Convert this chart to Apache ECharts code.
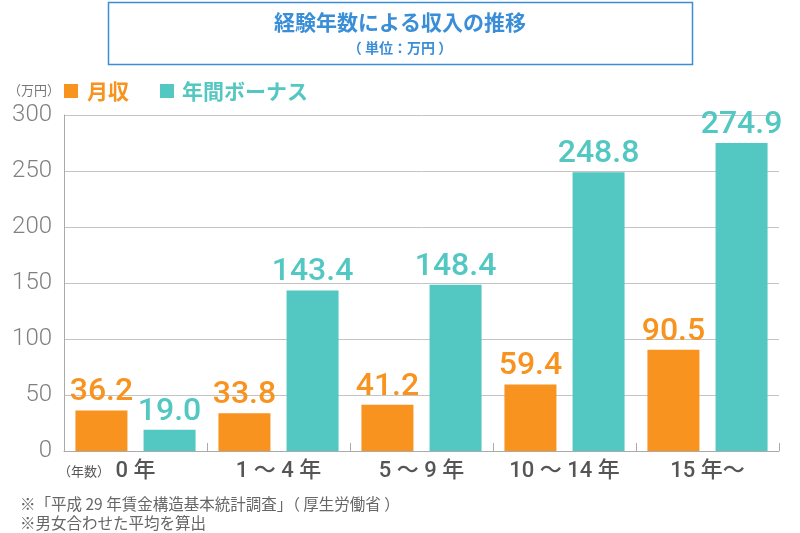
<!DOCTYPE html>
<html><head><meta charset="utf-8">
<script src="https://cdn.jsdelivr.net/npm/echarts@6/dist/echarts.min.js"></script>
<style>html,body{margin:0;padding:0;background:#fff}#c{width:800px;height:533px}</style>
</head><body><div id="c"></div>
<script>
const categories = ['0 年', '1 ～ 4 年', '5 ～ 9 年', '10 ～ 14 年', '15 年～'];
const monthly = [36.2, 33.8, 41.2, 59.4, 90.5];
const bonus = [19.0, 143.4, 148.4, 248.8, 274.9];
const yTicks = {min: 0, max: 300, interval: 50};
const seriesNames = ['月収', '年間ボーナス'];
const titleText = '経験年数による収入の推移';
const subText = '（ 単位：万円 ）';
const notes = ['※「平成 29 年賃金構造基本統計調査」（ 厚生労働省 ）', '※男女合わせた平均を算出'];

const ORANGE = '#f7931e', TEAL = '#53c7c1', BLUE = '#3a8ed8';
const CJK = '"Noto Sans CJK JP", sans-serif';
const chart = echarts.init(document.getElementById('c'));
const labelStyle = c => ({show: true, position: 'top', distance: 2, color: c, fontSize: 32,
  fontFamily: 'Roboto, sans-serif', fontWeight: 500, formatter: p => p.value.toFixed(1)});
chart.setOption({
  animation: false,
  grid: {left: 64, right: 21, top: 115, bottom: 82},
  xAxis: {type: 'category', data: categories,
    axisLine: {lineStyle: {color: '#aaa', width: 1}},
    axisTick: {show: true, inside: true, length: 8, interval: 0, lineStyle: {color: '#aaa'}},
    axisLabel: {interval: 0, hideOverlap: false, color: '#555', fontSize: 22, fontWeight: 500, margin: 9, fontFamily: 'Roboto, ' + CJK}},
  yAxis: {type: 'value', min: yTicks.min, max: yTicks.max, interval: yTicks.interval,
    axisLine: {show: true, lineStyle: {color: '#aaa'}},
    axisTick: {show: false},
    splitLine: {lineStyle: {color: '#c4c4c4'}},
    axisLabel: {color: '#808080', fontSize: 24, fontWeight: 300, margin: 12, fontFamily: 'Roboto, sans-serif'}},
  series: [
    {name: seriesNames[0], type: 'bar', data: monthly, barWidth: 52, barGap: '31%', itemStyle: {color: ORANGE}, label: labelStyle(ORANGE)},
    {name: seriesNames[1], type: 'bar', data: bonus, barWidth: 52, itemStyle: {color: TEAL}, label: labelStyle(TEAL)}
  ],
  graphic: [
    {type: 'rect', shape: {x: 108.5, y: 2.5, width: 584, height: 62}, style: {fill: '#fff', stroke: BLUE, lineWidth: 1.5}},
    {type: 'text', x: 400, y: 22, style: {text: titleText, fill: BLUE, fontSize: 21, fontWeight: 'bold', fontFamily: CJK, align: 'center', verticalAlign: 'middle'}},
    {type: 'text', x: 400, y: 48, style: {text: subText, fill: BLUE, fontSize: 14, fontWeight: 'bold', fontFamily: CJK, align: 'center', verticalAlign: 'middle'}},
    {type: 'text', x: 8, y: 90, style: {text: '（万円）', fill: '#777', fontSize: 13, fontFamily: CJK, verticalAlign: 'middle'}},
    {type: 'rect', shape: {x: 64, y: 84, width: 14, height: 14}, style: {fill: ORANGE}},
    {type: 'text', x: 87, y: 91, style: {text: seriesNames[0], fill: ORANGE, fontSize: 21, fontWeight: 'bold', fontFamily: CJK, verticalAlign: 'middle'}},
    {type: 'rect', shape: {x: 160, y: 84, width: 14, height: 14}, style: {fill: TEAL}},
    {type: 'text', x: 182, y: 91, style: {text: seriesNames[1], fill: TEAL, fontSize: 21, fontWeight: 'bold', fontFamily: CJK, verticalAlign: 'middle'}},
    {type: 'text', x: 58, y: 471, style: {text: '（年数）', fill: '#555', fontSize: 13, fontFamily: CJK, verticalAlign: 'middle'}},
    {type: 'text', x: 20, y: 504, style: {text: notes[0], fill: '#666', fontSize: 15.5, fontFamily: CJK, verticalAlign: 'middle'}},
    {type: 'text', x: 20, y: 523, style: {text: notes[1], fill: '#666', fontSize: 15.5, fontFamily: CJK, verticalAlign: 'middle'}}
  ]
});
</script></body></html>
